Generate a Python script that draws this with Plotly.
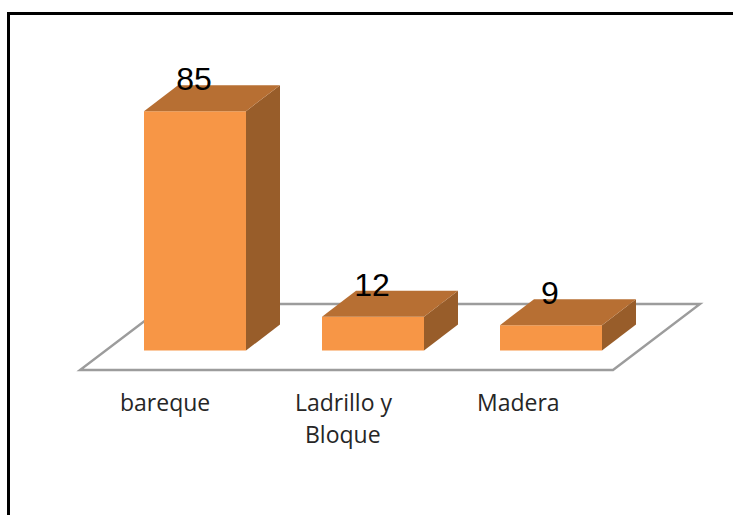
import plotly.graph_objects as go

# Data
categories = ["bareque", "Ladrillo y\nBloque", "Madera"]
values = [85, 12, 9]

# Pixel calibration of the chart's axes
W, H = 733, 515
X0_PX, X_STEP_PX = 195.0, 178.0
Y0_PX, Y_STEP_PX = 350.5, 2.815


def ux(px):
    return (px - X0_PX) / X_STEP_PX


def uy(px):
    return (Y0_PX - px) / Y_STEP_PX


positions = list(range(len(values)))
bar_w = 102 / X_STEP_PX
dx = 34 / X_STEP_PX
dy = 26 / Y_STEP_PX

FRONT = "#F79646"
TOP = "#B76F33"
SIDE = "#985D2A"
FLOOR = "#9C9C9C"
TEXT = "#262626"

fig = go.Figure()

fig.add_trace(go.Bar(
    x=positions, y=values, width=bar_w,
    marker=dict(color=FRONT, line=dict(width=0)),
    hoverinfo="skip", showlegend=False,
))

for p, v in zip(positions, values):
    l, r = p - bar_w / 2, p + bar_w / 2
    fig.add_trace(go.Scatter(
        x=[r, r + dx, r + dx, r, r], y=[0, dy, v + dy, v, 0],
        mode="lines", fill="toself", fillcolor=SIDE, line=dict(width=0),
        hoverinfo="skip", showlegend=False,
    ))
    fig.add_trace(go.Scatter(
        x=[l, r, r + dx, l + dx, l], y=[v, v, v + dy, v + dy, v],
        mode="lines", fill="toself", fillcolor=TOP, line=dict(width=0),
        hoverinfo="skip", showlegend=False,
    ))

fig.add_trace(go.Scatter(
    x=[p - 1 / X_STEP_PX for p in positions],
    y=[v + 29 / Y_STEP_PX for v in values],
    mode="text", text=[str(v) for v in values],
    textposition="middle center",
    textfont=dict(family="Liberation Sans", size=32, color="#000000"),
    hoverinfo="skip", showlegend=False,
))

# Floor of the 3D chart, behind the bars
floor_pts = [(80, 370), (613, 370), (700, 304), (167, 304)]
path = "M " + " L ".join(f"{ux(a)},{uy(b)}" for a, b in floor_pts) + " Z"
shapes = [dict(type="path", path=path, xref="x", yref="y", layer="below",
               line=dict(color=FLOOR, width=2.4), fillcolor="#FFFFFF")]

# Black frame along the top and left edges
shapes.append(dict(type="path", xref="paper", yref="paper", layer="above",
                   path=f"M {8.5 / W},0 L {8.5 / W},{1 - 13.5 / H} L 1,{1 - 13.5 / H}",
                   line=dict(color="#000000", width=3)))

annotations = []
label_x_px = [164.5, 343, 518]
for lx, cat in zip(label_x_px, categories):
    for i, line in enumerate(cat.split("\n")):
        annotations.append(dict(
            x=ux(lx), y=uy(402 + 32 * i), xref="x", yref="y", text=line,
            showarrow=False, xanchor="center", yanchor="middle",
            font=dict(family="Open Sans", size=23, color=TEXT),
        ))

fig.update_layout(
    width=W, height=H, margin=dict(l=0, r=0, t=0, b=0),
    paper_bgcolor="#FFFFFF", plot_bgcolor="rgba(0,0,0,0)",
    showlegend=False, shapes=shapes, annotations=annotations,
    xaxis=dict(range=[ux(0), ux(W)], visible=False, fixedrange=True),
    yaxis=dict(range=[uy(H), uy(0)], visible=False, fixedrange=True),
)

fig.write_html("out.html", config={"displayModeBar": False},
               post_script="document.body.style.margin='0';")
